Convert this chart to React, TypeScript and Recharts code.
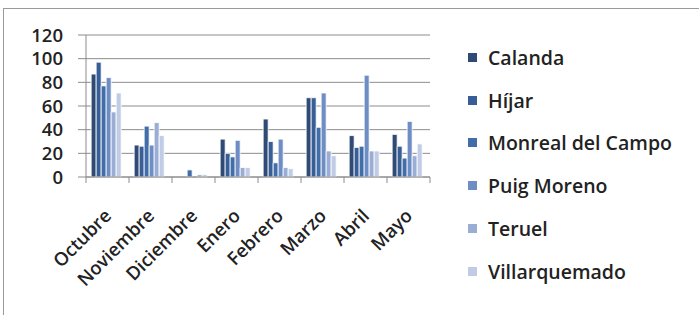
import { BarChart, Bar, XAxis, YAxis, CartesianGrid } from "recharts"

const months = ["Octubre", "Noviembre", "Diciembre", "Enero", "Febrero", "Marzo", "Abril", "Mayo"]

const calanda = [87, 27, 0, 32, 49, 67, 35, 36]
const hijar = [97, 26, 0, 20, 30, 67, 25, 26]
const monreal = [77, 43, 6, 17, 12, 42, 26, 16]
const puigMoreno = [84, 27, 0, 31, 32, 71, 86, 47]
const teruel = [55, 46, 2, 8, 8, 22, 22, 18]
const villarquemado = [71, 35, 2, 8, 7, 18, 22, 28]

const yTicks = [0, 20, 40, 60, 80, 100, 120]

const series = [
  { key: "calanda", name: "Calanda", color: "#2f4b75", values: calanda },
  { key: "hijar", name: "Híjar", color: "#385e97", values: hijar },
  { key: "monreal", name: "Monreal del Campo", color: "#416ea9", values: monreal },
  { key: "puig", name: "Puig Moreno", color: "#6d8dc4", values: puigMoreno },
  { key: "teruel", name: "Teruel", color: "#9aaed5", values: teruel },
  { key: "villar", name: "Villarquemado", color: "#c0cce5", values: villarquemado },
]

const data = months.map((m, i) => {
  const row: Record<string, string | number> = { month: m }
  series.forEach((s) => (row[s.key] = s.values[i]))
  return row
})

const FONT = "'Open Sans', Lato, sans-serif"
const W = 699
const H = 315
const plotLeft = 86
const plotRight = 430
const band = (plotRight - plotLeft) / months.length

function MonthTick(props: any) {
  const { x, y, payload, index } = props
  const lx = x + 5
  const ly = y + 34
  return (
    <g>
      <line x1={x - band / 2} y1={y - 6} x2={x - band / 2} y2={y} stroke="#8c8c8c" />
      {index === months.length - 1 && (
        <line x1={x + band / 2} y1={y - 6} x2={x + band / 2} y2={y} stroke="#8c8c8c" />
      )}
      <text
        x={lx}
        y={ly}
        textAnchor="end"
        transform={`rotate(-45, ${lx}, ${ly})`}
        fontFamily={FONT}
        fontSize={18.5}
        fontWeight={600}
        fill="#222"
      >
        {payload.value}
      </text>
    </g>
  )
}

export default function App() {
  return (
    <div style={{ position: "absolute", left: 0, top: 0, width: W, height: H, background: "#fff", overflow: "hidden" }}>
      <div
        style={{
          position: "absolute",
          left: 3,
          top: 8,
          width: W,
          height: H,
          borderLeft: "1px solid #9a9a9a",
          borderTop: "1px solid #9a9a9a",
        }}
      />
      <div style={{ position: "absolute", left: 0, top: 0 }}>
        <BarChart
          width={W}
          height={H}
          data={data}
          margin={{ top: 35, right: W - plotRight, bottom: 0, left: 0 }}
          barCategoryGap="12%"
          barGap={0}
        >
          <CartesianGrid vertical={false} stroke="#8c8c8c" />
          <XAxis
            dataKey="month"
            height={H - 177}
            axisLine={{ stroke: "#8c8c8c" }}
            tickLine={false}
            tickSize={6}
            tickMargin={0}
            interval={0}
            tick={<MonthTick />}
          />
          <YAxis
            width={plotLeft}
            domain={[0, 120]}
            ticks={yTicks}
            interval={0}
            axisLine={{ stroke: "#8c8c8c" }}
            tickLine={{ stroke: "#8c8c8c" }}
            tickSize={8}
            tickMargin={15}
            tick={{ fontFamily: FONT, fontSize: 18.5, fontWeight: 600, fill: "#222" }}
          />
          {series.map((s) => (
            <Bar
              key={s.key}
              dataKey={s.key}
              name={s.name}
              fill={s.color}
              stroke="#ffffff"
              strokeWidth={0.8}
              isAnimationActive={false}
            />
          ))}
        </BarChart>
      </div>
      <div style={{ position: "absolute", left: 468, top: 36, fontFamily: FONT, fontSize: 19.5, fontWeight: 600, color: "#222" }}>
        {series.map((s) => (
          <div key={s.key} style={{ display: "flex", alignItems: "center", height: 42.8 }}>
            <span style={{ display: "inline-block", width: 9, height: 9, background: s.color, marginRight: 11 }} />
            <span>{s.name}</span>
          </div>
        ))}
      </div>
    </div>
  )
}
